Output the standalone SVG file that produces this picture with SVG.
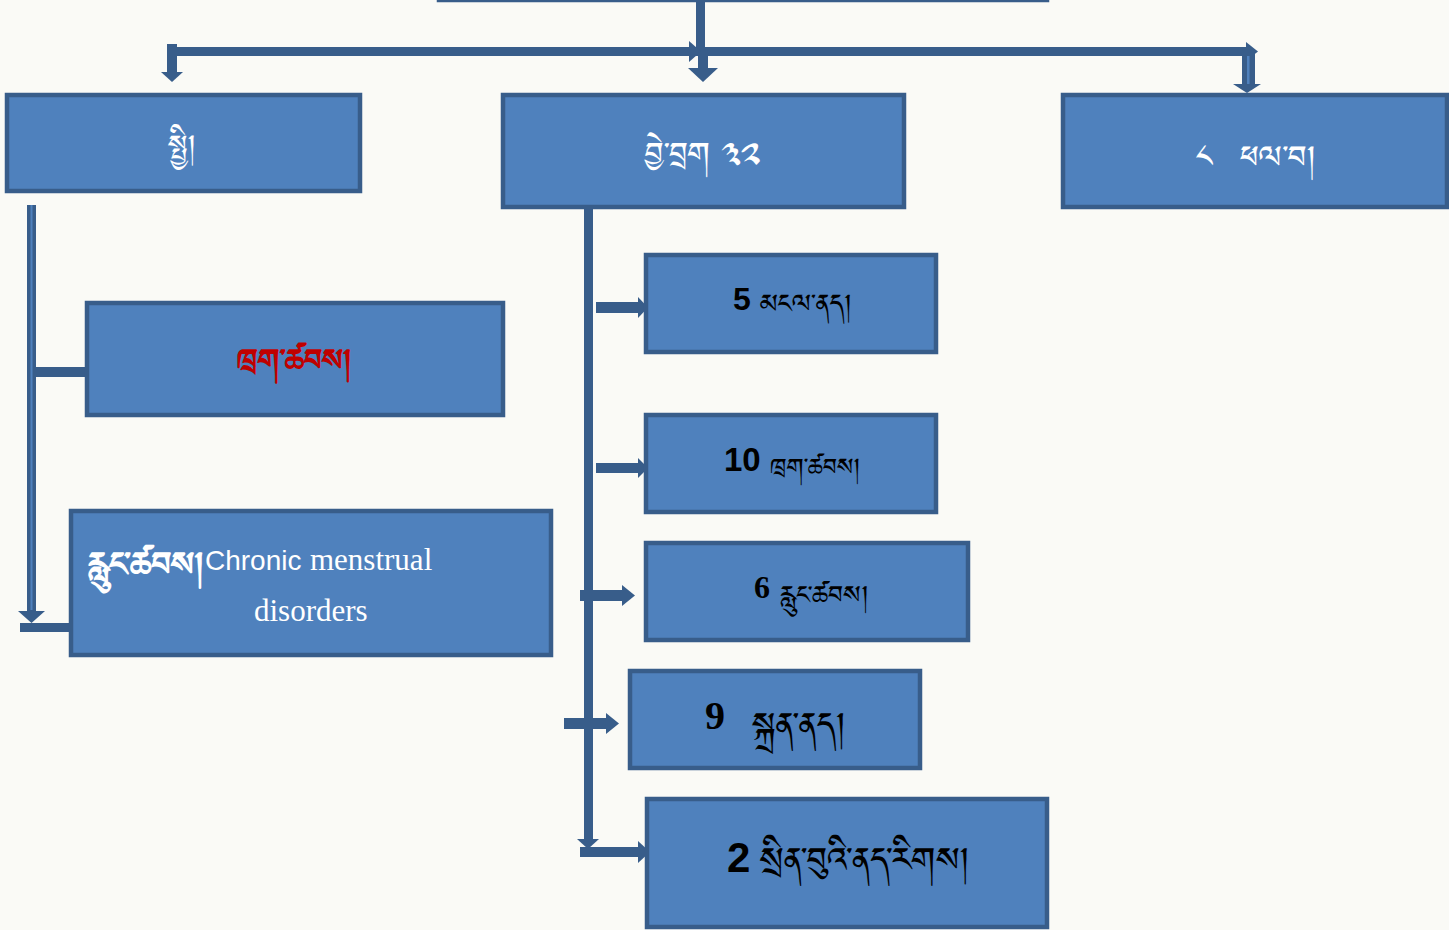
<svg xmlns="http://www.w3.org/2000/svg" width="1449" height="930" viewBox="0 0 1449 930">
<style>
.box{fill:#4f81bd;stroke:#385d8a;stroke-width:4.5}
.con{fill:#385d8a}
.tib{font-family:"Noto Sans Tibetan","Jomolhari","Microsoft Himalaya","DejaVu Sans","Noto Sans",sans-serif}
.w{fill:#ffffff}
.k{fill:#000000}
.num{font-family:"Liberation Sans",Arial,sans-serif;font-weight:bold;fill:#000}
.snum{font-family:"Liberation Serif","Times New Roman",serif;font-weight:bold;fill:#000}
.en{font-family:"Liberation Sans",Arial,sans-serif;fill:#fff}
.ser{font-family:"Liberation Serif","Times New Roman",serif;fill:#fff}
</style>
<rect x="0" y="0" width="1449" height="930" fill="#fafaf6"/>
<g id="connectors">
  <rect class="con" x="696" y="0" width="9" height="52"/>
  <rect class="con" x="176" y="47" width="1072" height="9"/>
  <polygon class="con" points="689,41 701,51.5 689,62"/>
  <rect class="con" x="167" y="44" width="10" height="29"/>
  <polygon class="con" points="161,72 183,72 172,82"/>
  <rect class="con" x="698" y="52" width="10" height="18"/>
  <polygon class="con" points="688,68 718,68 703,82"/>
  <polygon class="con" points="1246,42 1258,51.5 1246,61"/>
  <rect class="con" x="1242" y="52" width="13" height="33"/>
  <rect x="1247" y="56" width="2.5" height="30" fill="#4f81bd"/>
  <polygon class="con" points="1233,84 1261,84 1247,93"/>
  <rect class="con" x="27" y="205" width="9" height="408"/>
  <rect x="30.5" y="205" width="2" height="405" fill="#4f81bd"/>
  <polygon class="con" points="18,611 45,611 31.5,623"/>
  <rect class="con" x="20" y="623" width="50" height="9"/>
  <rect class="con" x="36" y="367" width="50" height="10"/>
  <rect class="con" x="584" y="209" width="9" height="632"/>
  <polygon class="con" points="577,839 599,839 588,849"/>
  <rect class="con" x="580" y="847" width="60" height="10"/>
  <polygon class="con" points="638,841 650,852 638,863"/>
  <rect class="con" x="596" y="302" width="44" height="11"/>
  <polygon class="con" points="638,297 648,307.5 638,318"/>
  <rect class="con" x="596" y="463" width="44" height="10"/>
  <polygon class="con" points="638,458 648,468 638,478"/>
  <rect class="con" x="580" y="590" width="44" height="11"/>
  <polygon class="con" points="622,585 635,595.5 622,606"/>
  <rect class="con" x="564" y="718" width="44" height="11"/>
  <polygon class="con" points="606,713 619,723.5 606,734"/>
</g>
<g id="node-top">
  <rect class="box" x="439" y="-60" width="608" height="60"/>
</g>
<g id="node-general">
  <rect class="box" x="7" y="95" width="353" height="96"/>
  <text class="tib w" x="182" y="162" font-size="36" text-anchor="middle">སྤྱི།</text>
</g>
<g id="node-specific">
  <rect class="box" x="503" y="95" width="401" height="112"/>
  <text class="tib w" x="645" y="172" font-size="39">བྱེ་བྲག ༣༢</text>
</g>
<g id="node-common">
  <rect class="box" x="1063" y="95" width="384" height="112"/>
  <text class="tib w" x="1196" y="176" font-size="40">༨</text>
  <text class="tib w" x="1240" y="176" font-size="40">ཕལ་བ།</text>
</g>
<g id="node-khrag-left">
  <rect class="box" x="87" y="303" width="416" height="112"/>
  <text class="tib" x="237" y="378" font-size="38" font-weight="bold" fill="#c00000">ཁྲག་ཚབས།</text>
</g>
<g id="node-rlung-left">
  <rect class="box" x="71" y="511" width="480" height="144"/>
  <text class="tib w" x="88" y="584" font-size="42" font-weight="bold">རླུང་ཚབས།</text>
  <text class="en" x="205" y="570" font-size="28">Chronic</text>
  <text class="ser" x="310" y="570" font-size="31">menstrual</text>
  <text class="ser" x="254" y="621" font-size="31">disorders</text>
</g>
<g id="node-5">
  <rect class="box" x="646" y="255" width="290" height="97"/>
  <text class="num" x="733" y="310" font-size="32">5</text>
  <text class="tib k" x="760" y="319" font-size="33">མངལ་ནད།</text>
</g>
<g id="node-10">
  <rect class="box" x="646" y="415" width="290" height="97"/>
  <text class="num" x="724" y="471" font-size="33">10</text>
  <text class="tib k" x="770" y="481" font-size="30">ཁྲག་ཚབས།</text>
</g>
<g id="node-6">
  <rect class="box" x="646" y="543" width="322" height="97"/>
  <text class="snum" x="754" y="598" font-size="32">6</text>
  <text class="tib k" x="780" y="610" font-size="32">རླུང་ཚབས།</text>
</g>
<g id="node-9">
  <rect class="box" x="630" y="671" width="290" height="97"/>
  <text class="snum" x="705" y="729" font-size="40">9</text>
  <text class="tib k" x="752" y="745" font-size="43">སྐྲན་ནད།</text>
</g>
<g id="node-2">
  <rect class="box" x="647" y="799" width="400" height="128"/>
  <text class="num" x="727" y="872" font-size="42">2</text>
  <text class="tib k" x="760" y="880" font-size="43">སྲིན་བུའི་ནད་རིགས།</text>
</g>
</svg>
